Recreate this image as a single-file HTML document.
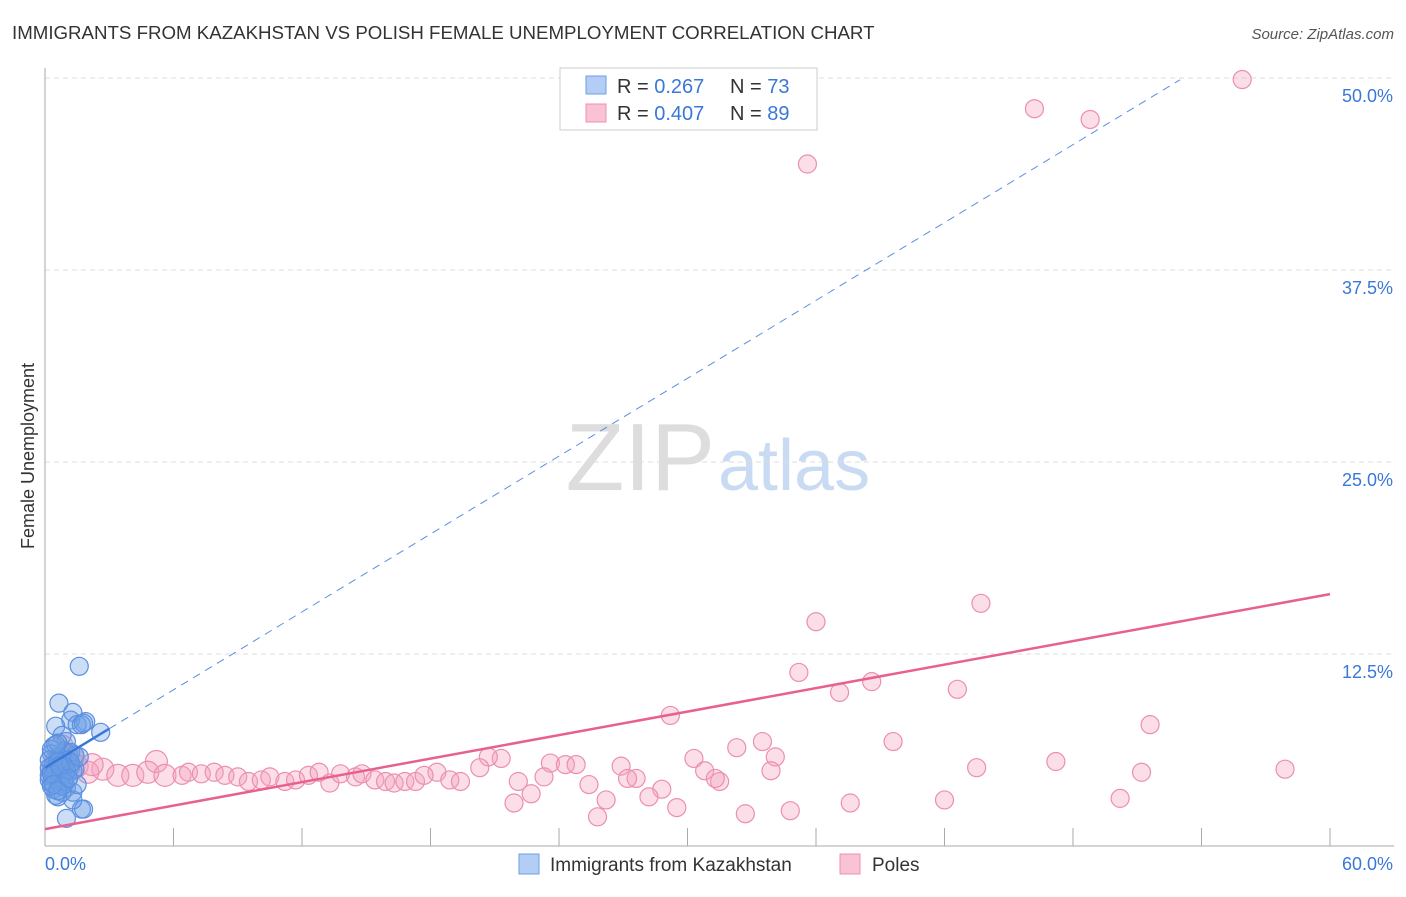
<!DOCTYPE html>
<html><head><meta charset="utf-8"><style>
body{margin:0;background:#fff;font-family:"Liberation Sans",sans-serif;}
svg text{font-family:"Liberation Sans",sans-serif;}
</style></head><body>
<svg id="chart" width="1406" height="892">
<text x="12" y="39" font-size="18.7" fill="#333">IMMIGRANTS FROM KAZAKHSTAN VS POLISH FEMALE UNEMPLOYMENT CORRELATION CHART</text>
<text x="1394" y="39" font-size="15" fill="#555" font-style="italic" text-anchor="end">Source: ZipAtlas.com</text>
<text x="715" y="490" font-size="96" fill="#ddd" text-anchor="end" font-family="Liberation Serif">ZIP</text>
<text x="718" y="490" font-size="72" fill="#c9dbf3">atlas</text>
<text transform="translate(34,456) rotate(-90)" font-size="18" fill="#333" text-anchor="middle">Female Unemployment</text>
<g id="grid"></g><g id="pts"></g><g id="lines"></g>
<g>
<rect x="560" y="68" width="257" height="62" fill="#fff" stroke="#ccc"/>
<rect x="586" y="76" width="20" height="18" fill="#b3cdf5" stroke="#6c9ee6"/>
<rect x="586" y="104" width="20" height="18" fill="#f9c3d4" stroke="#ec8fae"/>
<text x="617" y="93" font-size="20" fill="#333">R = <tspan fill="#3a78d8">0.267</tspan></text>
<text x="730" y="93" font-size="20" fill="#333">N = <tspan fill="#3a78d8">73</tspan></text>
<text x="617" y="120" font-size="20" fill="#333">R = <tspan fill="#3a78d8">0.407</tspan></text>
<text x="730" y="120" font-size="20" fill="#333">N = <tspan fill="#3a78d8">89</tspan></text>
</g>
<g>
<rect x="519" y="854" width="20" height="20" fill="#b3cdf5" stroke="#6c9ee6"/>
<text x="550" y="871" font-size="19" fill="#333">Immigrants from Kazakhstan</text>
<rect x="840" y="854" width="20" height="20" fill="#f9c3d4" stroke="#ec8fae"/>
<text x="872" y="871" font-size="19" fill="#333">Poles</text>
</g>
</svg>
<script>
const xTicks=[0,6,12,18,24,30,36,42,48,54,60];
const yTicks=[12.5,25,37.5,50];
const yTickLabels=["12.5%","25.0%","37.5%","50.0%"];
const pinkX=[55.9,46.2,48.8,35.6,43.7,36.0,35.2,38.6,42.6,37.1,29.2,51.6,39.6,33.5,32.3,21.3,20.7,30.3,34.1,47.2,5.2,23.6,24.3,24.8,26.9,43.5,57.9,33.9,20.3,30.8,51.2,18.3,27.6,27.2,23.3,31.5,31.3,22.1,25.4,28.8,22.7,28.2,26.2,42.0,50.2,21.9,37.6,29.5,34.8,32.7,25.8,
2.7,3.4,4.1,4.8,5.6,6.4,6.7,7.3,7.9,8.4,9.0,9.5,10.1,10.5,11.2,11.7,12.3,12.8,13.3,13.8,14.5,14.8,15.4,15.9,16.3,16.8,17.3,17.7,18.9,19.4,0.5,1.0,1.5,2.0,0.8,1.3,2.2,0.3];
const pinkY=[49.9,48.0,47.3,44.4,15.8,14.6,11.3,10.7,10.2,10.0,8.5,7.9,6.8,6.8,6.4,5.7,5.8,5.7,5.8,5.5,5.5,5.4,5.3,5.3,5.2,5.1,5.0,4.9,5.1,4.9,4.8,4.8,4.4,4.4,4.5,4.2,4.4,4.2,4.0,3.7,3.4,3.2,3.0,3.0,3.1,2.8,2.8,2.5,2.3,2.1,1.9,
5.0,4.6,4.6,4.8,4.6,4.6,4.8,4.7,4.8,4.6,4.5,4.2,4.3,4.5,4.2,4.3,4.6,4.8,4.1,4.7,4.5,4.7,4.3,4.2,4.1,4.2,4.2,4.6,4.3,4.2,5.5,6.0,5.2,4.8,6.5,5.8,5.3,5.0];
const blueX=[1.6,0.65,1.3,1.2,1.9,1.5,0.5,2.6,0.8,1.0,1.7,1.8,0.4,0.9,1.1,0.3,0.6,1.4,0.2,0.7,1.0,0.5,1.2,0.3,0.8,0.4,0.9,1.3,0.2,0.6,1.1,0.5,0.7,0.3,0.9,1.0,0.4,1.3,1.7,1.8,1.0,1.3,0.6,0.8,0.5,1.5,0.2,0.4,0.7,1.2,0.3,0.6,0.9,1.1,0.5,0.8,0.2,0.4,1.4,0.3,0.7,1.0,0.6,0.5,0.9,1.2,0.3,0.8,1.6,0.4,0.7,1.1,0.6];
const blueY=[11.7,9.3,8.7,8.2,8.1,7.9,7.8,7.4,7.2,6.8,7.9,8.0,6.5,6.2,6.0,6.0,5.8,5.9,5.6,5.5,5.4,5.2,5.2,5.0,5.0,4.8,4.7,4.9,4.6,4.5,4.4,4.3,4.2,4.1,4.0,3.8,3.7,3.5,2.4,2.4,1.8,3.0,3.2,3.5,3.3,4.0,4.3,5.3,5.7,6.1,6.3,6.7,5.1,5.6,4.9,5.3,5.1,4.6,5.0,3.9,4.5,4.9,5.5,6.6,4.2,5.4,4.7,3.9,5.8,4.0,5.2,4.4,3.6];
const pinkTrend=[1.1,16.4];
const blueTrend=[5.1,0.845];
const X=v=>45+v*1285/60, Y=v=>846-v*768/50;
const NS="http://www.w3.org/2000/svg";
function mk(t,a,p){const e=document.createElementNS(NS,t);for(const k in a)e.setAttribute(k,a[k]);p.appendChild(e);return e;}
const svg=document.getElementById('chart'),grid=document.getElementById('grid'),pts=document.getElementById('pts'),lines=document.getElementById('lines');
yTicks.forEach((t,i)=>{
 const g=mk('line',{x1:45,x2:1394,y1:Y(t),y2:Y(t),stroke:'#ddd','stroke-dasharray':'5,4'},grid);
 
 
 const l=mk('text',{x:1393,y:Y(t)+24,'font-size':18,fill:'#3a78d8','text-anchor':'end'},grid);
 l.textContent=yTickLabels[i];
 
 
});
const ax=mk('line',{x1:45,x2:45,y1:68,y2:846,stroke:'#aaa'},grid);


const bx=mk('line',{x1:45,x2:1394,y1:846,y2:846,stroke:'#aaa'},grid);


xTicks.forEach(t=>{
 const tk=mk('line',{x1:X(t),x2:X(t),y1:828,y2:846,stroke:'#aaa'},grid);
 
 
});
const x0=mk('text',{x:45,y:870,'font-size':18,fill:'#3a78d8'},grid);x0.textContent=xTicks[0].toFixed(1)+'%';


const x1=mk('text',{x:1393,y:870,'font-size':18,fill:'#3a78d8','text-anchor':'end'},grid);x1.textContent=xTicks[xTicks.length-1].toFixed(1)+'%';


pinkX.forEach((v,i)=>{
 const c=mk('circle',{cx:X(v),cy:Y(pinkY[i]),r:(v<6?11:9),fill:'rgba(244,160,190,0.35)',stroke:'#ec8fae','stroke-width':1.2},pts);
 
 
});
blueX.forEach((v,i)=>{
 const c=mk('circle',{cx:X(v),cy:Y(blueY[i]),r:9,fill:'rgba(110,160,230,0.35)',stroke:'#5b8fe0','stroke-width':1.2},pts);
 
 
});
const pl=mk('line',{x1:X(0),y1:Y(pinkTrend[0]),x2:X(60),y2:Y(pinkTrend[1]),stroke:'#e8608f','stroke-width':2.5},lines);


const bd=mk('line',{x1:X(3),y1:Y(blueTrend[0]+3*blueTrend[1]),x2:X(53),y2:Y(blueTrend[0]+53*blueTrend[1]),stroke:'#5b8fe0','stroke-width':1,'stroke-dasharray':'8,6'},lines);


const bl=mk('line',{x1:X(0),y1:Y(blueTrend[0]),x2:X(3),y2:Y(blueTrend[0]+3*blueTrend[1]),stroke:'#3a78d8','stroke-width':2.5},lines);


</script>
</body></html>
